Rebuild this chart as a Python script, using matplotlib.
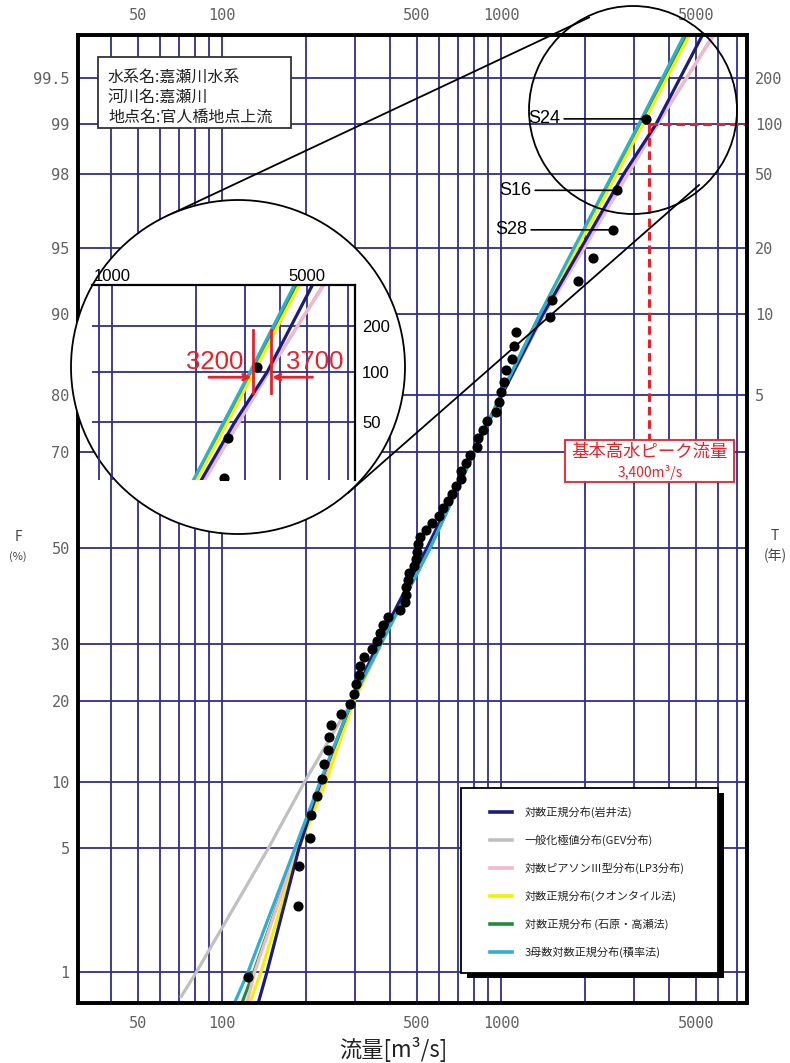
import numpy as np
import matplotlib
matplotlib.use("Agg")
import matplotlib.pyplot as plt
from matplotlib.patches import Circle, Rectangle
from matplotlib.lines import Line2D
from matplotlib.ticker import FixedLocator, NullFormatter, NullLocator
from statistics import NormalDist

plt.rcParams['font.family'] = ['Noto Sans CJK JP', 'DejaVu Sans']

W, H = 790, 1063
_nd = NormalDist()


def zq(p):
    # 非超過確率(%) -> 標準正規変量 (確率紙の縦軸)
    return np.array([_nd.inv_cdf(v / 100.0) for v in np.atleast_1d(p)], dtype=float)


# ---- 観測値 (流量 m3/s, 非超過確率 %) ----
obs_flow = [124, 187, 189, 207, 208, 219, 228, 232, 240, 242, 246, 267, 288, 297, 302, 310,
            312, 323, 345, 359, 368, 378, 394, 435, 453, 456, 458, 464, 467, 488, 496, 500,
            504, 513, 539, 566, 600, 620, 646, 667, 690, 719, 722, 749, 774, 820, 824, 862,
            891, 960, 984, 1000, 1025, 1042, 1095, 1113, 1132, 1498, 1523, 1888, 2137, 2520,
            2605, 3309]
obs_F = [0.93, 2.49, 4.05, 5.61, 7.17, 8.72, 10.28, 11.84, 13.40, 14.95, 16.51, 18.07, 19.63,
         21.18, 22.74, 24.30, 25.86, 27.41, 28.97, 30.53, 32.09, 33.64, 35.20, 36.76, 38.32,
         39.88, 41.43, 42.99, 44.55, 46.11, 47.66, 49.22, 50.78, 52.34, 53.89, 55.45, 57.01,
         58.57, 60.12, 61.68, 63.24, 64.80, 66.36, 67.91, 69.47, 71.03, 72.59, 74.14, 75.70,
         77.26, 78.82, 80.37, 81.93, 83.49, 85.05, 86.60, 88.16, 89.72, 91.28, 92.83, 94.39,
         95.95, 97.51, 99.07]
named_points = {63: 'S24', 62: 'S16', 61: 'S28'}

# ---- 確率分布の当てはめ線 ----
fit_F = [0.63, 1, 5, 10, 20, 30, 50, 80, 90, 95, 98, 99, 99.76]
gev_F = [0.68, 1, 5, 10, 20, 30, 50, 80, 90, 95, 98, 99, 99.76]
q_iwai = [135, 145, 189, 226, 292, 362, 543, 1008, 1414, 1935, 2760, 3600, 5300]
q_gev = [71, 81, 147, 198, 292, 368, 552, 1008, 1426, 1984, 2860, 3650, 5800]
q_lp3 = [123, 131, 186, 232, 295, 368, 548, 1008, 1426, 1984, 2852, 3624, 5848]
q_quant = [126, 138, 189, 236, 297, 372, 552, 1000, 1391, 1873, 2605, 3228, 4757]
q_ishi = [118, 130, 186, 230, 295, 372, 557, 1000, 1380, 1842, 2563, 3176, 4643]
q_moment = [111, 124, 183, 225, 292, 372, 557, 1000, 1380, 1826, 2520, 3124, 4565]

series = [
    ('対数正規分布(岩井法)', '#1c1c7a', fit_F, q_iwai),
    ('一般化極値分布(GEV分布)', '#c0c0c0', gev_F, q_gev),
    ('対数ピアソンⅢ型分布(LP3分布)', '#f2b8cc', fit_F, q_lp3),
    ('対数正規分布(クオンタイル法)', '#f2f200', fit_F, q_quant),
    ('対数正規分布 (石原・高瀬法)', '#1e8c3a', fit_F, q_ishi),
    ('3母数対数正規分布(積率法)', '#30aed0', fit_F, q_moment),
]
draw_order = [1, 4, 2, 3, 0, 5]

# ---- 軸目盛 ----
f_ticks = [1, 5, 10, 20, 30, 50, 70, 80, 90, 95, 98, 99, 99.5]
f_labels = ['1', '5', '10', '20', '30', '50', '70', '80', '90', '95', '98', '99', '99.5']
t_years = [5, 10, 20, 50, 100, 200]
q_major = [50, 100, 500, 1000, 5000]
q_minor = [40, 60, 70, 80, 90, 200, 300, 400, 600, 700, 800, 900,
           2000, 3000, 4000, 6000, 7000]

design_q = 3400
design_F = 99.0

GRID = '#2e2e90'
RED = '#e8202a'
TICKC = '#606060'
NARROW = ['Liberation Sans Narrow', 'Liberation Sans']

fig = plt.figure(figsize=(W / 100, H / 100), dpi=100)
tr = fig.dpi_scale_trans


def px(x, y):
    return (x / 100.0, (H - y) / 100.0)


ax = fig.add_axes([78 / W, 1 - 1003 / H, (747 - 78) / W, (1003 - 35) / H])
ax.set_xscale('log')
ax.set_xlim(30.5, 7615)
ylo, yhi = zq(0.628)[0], zq(99.755)[0]
ax.set_ylim(ylo, yhi)

ax.xaxis.set_major_locator(FixedLocator(q_major))
ax.xaxis.set_minor_locator(FixedLocator(q_minor))
ax.xaxis.set_minor_formatter(NullFormatter())
ax.set_xticklabels([str(v) for v in q_major])
ax.set_yticks(zq(f_ticks))
ax.set_yticklabels(f_labels)
ax.yaxis.set_minor_locator(NullLocator())
ax.grid(True, which='both', color=GRID, lw=1.3, zorder=0)
ax.set_axisbelow(True)
ax.tick_params(axis='both', which='both', length=0, labelsize=11, labelcolor=TICKC)
ax.tick_params(axis='x', labeltop=True, pad=9)
ax.tick_params(axis='y', pad=6)
for lab in ax.get_xticklabels() + ax.get_yticklabels():
    lab.set_family('DejaVu Sans Mono')
for lab in ax.xaxis.get_ticklabels(which='major'):
    lab.set_family('DejaVu Sans Mono')

ax2 = ax.twinx()
ax2.set_ylim(ylo, yhi)
ax2.set_yticks(zq([100 - 100.0 / t for t in t_years]))
ax2.set_yticklabels([str(t) for t in t_years], family='DejaVu Sans Mono')
ax2.tick_params(length=0, labelsize=11, labelcolor=TICKC, pad=6)
for a in (ax, ax2):
    for s in a.spines.values():
        s.set_linewidth(2.6)
        s.set_color('black')


def draw_fits(a, lw):
    for i in draw_order:
        lab, col, ff, qq = series[i]
        a.plot(qq, zq(ff), color=col, lw=lw, solid_capstyle='butt', zorder=2)
    a.plot(obs_flow, zq(obs_F), 'o', color='black', ms=6.3, zorder=5)


draw_fits(ax, 2.3)

for idx, name in named_points.items():
    ax.annotate(name, xy=(obs_flow[idx], zq(obs_F[idx])[0]), xytext=(-86, 0),
                textcoords='offset pixels', ha='right', va='center', fontsize=13,
                family=NARROW,
                arrowprops=dict(arrowstyle='-', color='black', lw=1.2, shrinkA=1, shrinkB=3),
                zorder=6)

# 基本高水ピーク流量
zd = zq(design_F)[0]
ax.plot([design_q, 7615], [zd, zd], color=RED, lw=2.2, dashes=(2.8, 1.6), zorder=6)
ax.plot([design_q, design_q], [zd, zq(72.3)[0]], color=RED, lw=2.2, dashes=(2.8, 1.6), zorder=6)
fig.add_artist(Rectangle(px(565, 482), 1.69, 0.42, transform=tr, facecolor='white',
                         edgecolor=RED, lw=1.3, zorder=4))
fig.text(650 / W, 1 - 452 / H, '基本高水ピーク流量', color=RED, fontsize=12.5,
         ha='center', va='center', zorder=5)
fig.text(650 / W, 1 - 473 / H, '3,400m³/s', color=RED, fontsize=10,
         ha='center', va='center', zorder=5)

# 拡大円と接線
fig.add_artist(Circle(px(633, 110), 1.04, transform=tr, fill=False,
                      edgecolor='black', lw=1.3, zorder=2))
fig.add_artist(Line2D([1.67, 5.89], [(H - 216) / 100, (H - 17.5) / 100], transform=tr,
                      color='black', lw=1.3, zorder=2))
fig.add_artist(Line2D([3.48, 6.99], [(H - 493) / 100, (H - 185) / 100], transform=tr,
                      color='black', lw=1.3, zorder=2))
fig.add_artist(Circle(px(238, 367), 1.67, transform=tr, facecolor='white',
                      edgecolor='black', lw=1.3, zorder=2.5))

axi = fig.add_axes([92 / W, 1 - 480 / H, (355 - 92) / W, (480 - 285) / H], zorder=3)
axi.patch.set_alpha(0)
axi.set_xscale('log')
axi.set_xlim(848, 7430)
axi.set_ylim(zq(95.85)[0], zq(99.747)[0])
axi.xaxis.set_major_locator(FixedLocator([1000, 5000]))
axi.xaxis.set_minor_locator(FixedLocator([900, 2000, 3000, 4000, 6000, 7000]))
axi.xaxis.set_minor_formatter(NullFormatter())
axi.set_xticklabels(['1000', '5000'])
axi.set_yticks(zq([98, 99, 99.5]))
axi.set_yticklabels(['50', '100', '200'])
axi.yaxis.set_minor_locator(NullLocator())
axi.xaxis.tick_top()
axi.yaxis.tick_right()
axi.grid(True, which='both', color=GRID, lw=1.3)
axi.set_axisbelow(True)
axi.tick_params(which='both', length=0, labelsize=12, labelcolor='black')
axi.tick_params(axis='x', pad=1)
axi.tick_params(axis='y', pad=5)
for lab in axi.get_xticklabels() + axi.get_yticklabels():
    lab.set_family(NARROW)
for k in ('left', 'bottom'):
    axi.spines[k].set_visible(False)
for k in ('top', 'right'):
    axi.spines[k].set_linewidth(1.6)
draw_fits(axi, 2.3)

# 3200 / 3700 の幅
zlo, zhi, za = zq(98.65)[0], zq(99.47)[0], zq(98.92)[0]
for qv in (3200, 3700):
    axi.plot([qv, qv], [zlo, zhi], color=RED, lw=2.0, zorder=6)
axi.annotate('', xy=(3160, za), xytext=(2225, za),
             arrowprops=dict(arrowstyle='->', color=RED, lw=2.0, shrinkA=0, shrinkB=0))
axi.annotate('', xy=(3750, za), xytext=(5233, za),
             arrowprops=dict(arrowstyle='->', color=RED, lw=2.0, shrinkA=0, shrinkB=0))
zt = zq(99.14)[0]
axi.text(2946, zt, '3200', color=RED, fontsize=18.5, ha='right', va='center',
         family=NARROW, zorder=7)
axi.text(4190, zt, '3700', color=RED, fontsize=18.5, ha='left', va='center',
         family=NARROW, zorder=7)

# 地点情報
fig.add_artist(Rectangle(px(98, 128), 1.93, 0.71, transform=tr, facecolor='white',
                         edgecolor='#333333', lw=1.3, zorder=4))
for i, s in enumerate(['水系名:嘉瀬川水系', '河川名:嘉瀬川', '地点名:官人橋地点上流']):
    fig.text(108 / W, 1 - (77 + 20 * i) / H, s, fontsize=11.5, color='#222222',
             ha='left', va='center', zorder=5)

# 凡例
fig.add_artist(Rectangle(px(467, 978), 2.57, 1.85, transform=tr, facecolor='black',
                         edgecolor='black', lw=0, zorder=4))
fig.add_artist(Rectangle(px(461, 973), 2.57, 1.85, transform=tr, facecolor='white',
                         edgecolor='black', lw=1.3, zorder=4.1))
for i, (lab, col, ff, qq) in enumerate(series):
    yy = 812 + 28 * i
    fig.add_artist(Line2D([4.90, 5.12], [(H - yy) / 100] * 2, transform=tr, color=col,
                          lw=2.6, zorder=4.2))
    fig.text(525 / W, 1 - yy / H, lab, fontsize=8, color='#222222', ha='left',
             va='center', zorder=4.3)

# 軸名
fig.text(18 / W, 1 - 537 / H, 'F', fontsize=10, color='#444444', ha='center', va='center')
fig.text(18 / W, 1 - 557 / H, '(%)', fontsize=8, color='#444444', ha='center', va='center')
fig.text(775 / W, 1 - 536 / H, 'T', fontsize=10, color='#444444', ha='center', va='center')
fig.text(775 / W, 1 - 556 / H, '(年)', fontsize=10, color='#444444', ha='center', va='center')
fig.text(393 / W, 1 - 1049 / H, '流量[m³/s]', fontsize=16, color='#222222',
         ha='center', va='center')

fig.savefig('out.png', dpi=100)
